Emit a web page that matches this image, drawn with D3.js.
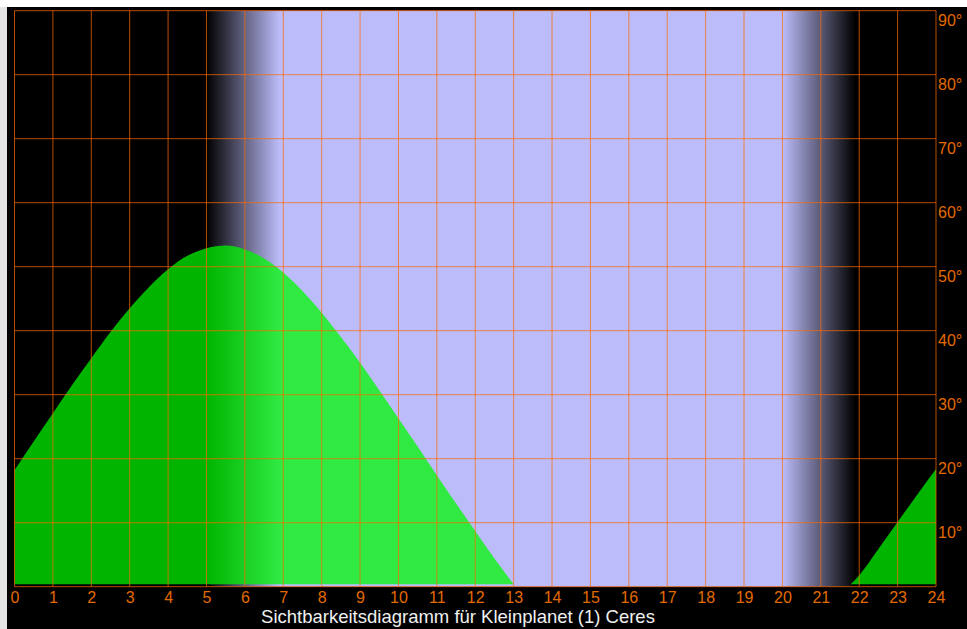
<!DOCTYPE html>
<html><head><meta charset="utf-8">
<script src="https://cdn.jsdelivr.net/npm/d3@7"></script>
<style>html,body{margin:0;padding:0;background:#fff;}svg{display:block;}</style>
</head><body>
<script>
// Data
const hours = [0,0.5,1,1.5,2,2.5,3,3.5,4,4.5,5,5.5,6,6.5,7,7.5,8,8.5,9,9.5,10,10.5,11,11.5,12,12.5,13];
const altitudes = [18.2,22.7,27.1,31.5,35.7,39.8,43.5,46.8,49.6,51.7,52.9,53.3,52.7,51.3,49.1,46.2,42.8,39.0,35.0,30.7,26.3,21.9,17.4,13.0,8.7,4.4,0];
const hoursLate = [21.78,22,22.5,23,23.5,24];
const altitudesLate = [0,1.8,5.9,10.1,14.3,18.4];
const twilight = [5.0, 6.9, 20.0, 21.9]; // dark→day start, day full, day end, dark
const xTicks = d3.range(0,25);
const yTicks = [10,20,30,40,50,60,70,80,90];
const title = "Sichtbarkeitsdiagramm für Kleinplanet (1) Ceres";

const W = 967, H = 629;
const svg = d3.select("body").append("svg").attr("width", W).attr("height", H);
svg.append("rect").attr("x",0).attr("y",0).attr("width",W).attr("height",H).attr("fill","#ffffff");
svg.append("rect").attr("x",0).attr("y",7).attr("width",7).attr("height",H-7).attr("fill","#e4e4e4");
svg.append("rect").attr("x",7).attr("y",7).attr("width",W-7).attr("height",H-7).attr("fill","#000");

const x = d3.scaleLinear().domain([0,24]).range([14.5,936]);
const y = d3.scaleLinear().domain([0,90]).range([586.7,10.7]);

const defs = svg.append("defs");
function grad(id, dark, light){
  const g = defs.append("linearGradient").attr("id", id).attr("gradientUnits","userSpaceOnUse")
    .attr("x1", x(0)).attr("x2", x(24)).attr("y1",0).attr("y2",0);
  const stops = [[0,dark],[twilight[0],dark],[twilight[1],light],[twilight[2],light],[twilight[3],dark],[24,dark]];
  stops.forEach(([h,c]) => g.append("stop").attr("offset", h/24).attr("stop-color", c));
}
grad("sky", "#000000", "#bcbcfa");
grad("green", "#00b400", "#30ea42");

svg.append("rect").attr("x", x(0)).attr("y", y(90)).attr("width", x(24)-x(0)).attr("height", y(0)-y(90)).attr("fill","url(#sky)");

const base = y(0) - 2.5;
const area = d3.area().x(d=>x(d[0])).y0(base).y1(d=>Math.min(y(d[1]), base)).curve(d3.curveMonotoneX);
svg.append("path").datum(hours.map((h,i)=>[h,altitudes[i]])).attr("d", area).attr("fill","url(#green)");
svg.append("path").datum(hoursLate.map((h,i)=>[h,altitudesLate[i]])).attr("d", area).attr("fill","url(#green)");

// grid
const grid = svg.append("g").attr("stroke","#ff6a00").attr("stroke-opacity",0.72).attr("stroke-width",1);
xTicks.forEach(t => grid.append("line").attr("x1",x(t)).attr("x2",x(t)).attr("y1",y(90)).attr("y2",y(0)));
[0].concat(yTicks).forEach(t => grid.append("line").attr("x1",x(0)).attr("x2",x(24)).attr("y1",y(t)).attr("y2",y(t)));

// axes labels
const font = "'Liberation Sans', Arial, sans-serif";
const xAxis = d3.axisBottom(x).tickValues(xTicks).tickSize(0).tickPadding(5).tickFormat(d3.format("d"));
const gx = svg.append("g").attr("transform",`translate(0,${y(0)})`).call(xAxis);
gx.select(".domain").remove();
gx.selectAll("text").attr("fill","#e36a00").attr("font-size","16px").attr("font-family",font);

const yAxis = d3.axisRight(y).tickValues(yTicks).tickSize(0).tickPadding(2).tickFormat(d=>d+"°");
const gy = svg.append("g").attr("transform",`translate(${x(24)},0)`).call(yAxis);
gy.select(".domain").remove();
gy.selectAll("text").attr("fill","#e36a00").attr("font-size","16px").attr("font-family",font).attr("dy","0.95em");

svg.append("text").attr("x", 458).attr("y", 623).attr("text-anchor","middle")
  .attr("fill","#f0f0f0").attr("font-size","18.5px").attr("font-family",font).text(title);
</script>
</body></html>
